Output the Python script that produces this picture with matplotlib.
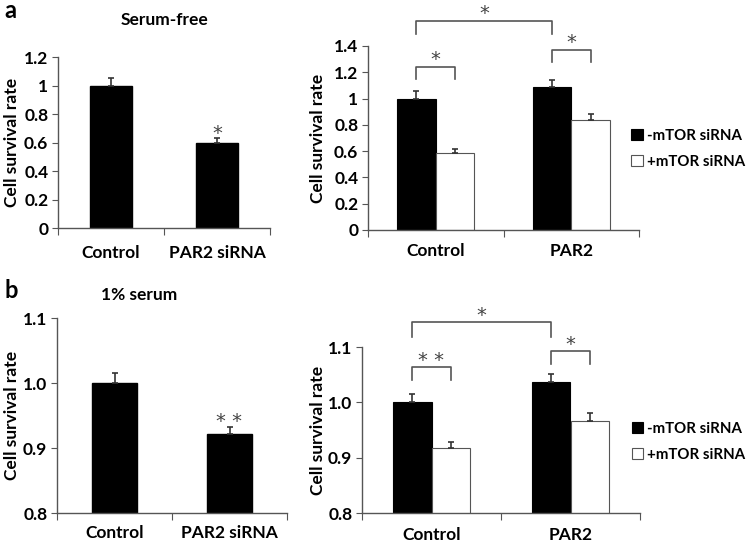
import matplotlib.pyplot as plt
import numpy as np

plt.rcParams['font.family'] = ['Lato', 'DejaVu Sans']

# panel a, serum-free
sf_labels = ['Control', 'PAR2 siRNA']
sf_means = [1.0, 0.6]
sf_err = [0.05, 0.03]

groups = ['Control', 'PAR2']
sf_minus = [1.0, 1.09]
sf_minus_err = [0.055, 0.05]
sf_plus = [0.585, 0.84]
sf_plus_err = [0.035, 0.04]

# panel b, 1% serum
s1_means = [1.0, 0.922]
s1_err = [0.015, 0.011]
s1_minus = [1.0, 1.037]
s1_minus_err = [0.015, 0.014]
s1_plus = [0.917, 0.966]
s1_plus_err = [0.011, 0.015]

series_names = ['-mTOR siRNA', '+mTOR siRNA']

# significance: (bar a, bar b, leg y, top y, text); bars indexed (group, series)
sf_sig = [((0, 0), (0, 1), 1.15, 1.24, '*'),
          ((1, 0), (1, 1), 1.28, 1.37, '*'),
          ((0, 0), (1, 0), 1.49, 1.59, '*')]
s1_sig = [((0, 0), (0, 1), 1.040, 1.064, '* *'),
          ((1, 0), (1, 1), 1.069, 1.093, '*'),
          ((0, 0), (1, 0), 1.118, 1.145, '*')]

AX = '#555555'
FS = 12.5
W, H = 751, 544
fig = plt.figure(figsize=(W / 100, H / 100), dpi=100)


def make_ax(l, r, t, b):
    return fig.add_axes([l / W, 1 - b / H, (r - l) / W, (b - t) / H])


def style(ax, ylim, yticks, yfmt, labels, xpad, ylab_x):
    ax.set_xlim(0, len(labels))
    ax.set_ylim(*ylim)
    ax.set_yticks(yticks)
    ax.set_yticklabels([yfmt(v) for v in yticks])
    for s in ['top', 'right']:
        ax.spines[s].set_visible(False)
    for s in ['left', 'bottom']:
        ax.spines[s].set_color(AX)
        ax.spines[s].set_linewidth(1.0)
    ax.set_xticks(np.arange(len(labels) + 1))
    ax.set_xticklabels([])
    ax.set_xticks(np.arange(len(labels)) + 0.5, minor=True)
    ax.set_xticklabels(labels, minor=True, fontsize=FS, fontweight='bold')
    ax.tick_params(axis='x', which='major', direction='out', length=5, color=AX)
    ax.tick_params(axis='x', which='minor', length=0, pad=xpad)
    ax.tick_params(axis='y', direction='out', length=4, color=AX, pad=3,
                   labelsize=FS)
    for t in ax.get_yticklabels():
        t.set_fontweight('bold')
    ax.set_ylabel('Cell survival rate', fontsize=FS, fontweight='bold')
    ax.yaxis.set_label_coords(ylab_x, 0.5)


def star(ax, x, y, txt):
    ax.annotate(txt, (x, y), xytext=(0, -4), textcoords='offset points',
                ha='center', va='center', fontsize=14, color='#444444',
                family='DejaVu Sans', annotation_clip=False)


def simple_bars(ax, means, err, width):
    x = np.arange(len(means)) + 0.5
    ax.bar(x, means, width, color='black', edgecolor='black', zorder=2)
    ax.errorbar(x, means, yerr=[np.zeros(len(err)), err], fmt='none',
                ecolor='#333333', elinewidth=1.2, capsize=2.5, capthick=1.2,
                zorder=3)
    return x


def grouped_bars(ax, minus, minus_err, plus, plus_err, width):
    x = np.arange(len(minus)) + 0.5
    xm = x - width / 2
    xp = x + width / 2
    ax.bar(xm, minus, width, color='black', edgecolor='black', lw=0.8,
           label=series_names[0], zorder=2)
    ax.bar(xp, plus, width, color='white', edgecolor='#555555', lw=0.8,
           label=series_names[1], zorder=2)
    for xx, m, e in [(xm, minus, minus_err), (xp, plus, plus_err)]:
        ax.errorbar(xx, m, yerr=[np.zeros(len(e)), e], fmt='none',
                    ecolor='#333333', elinewidth=1.2, capsize=2.5,
                    capthick=1.2, zorder=3)
    return np.array([xm, xp]).T


def brackets(ax, centers, sig, star_off):
    for a, b, y0, y1, txt in sig:
        xa = centers[a[0]][a[1]]
        xb = centers[b[0]][b[1]]
        ax.plot([xa, xa, xb, xb], [y0, y1, y1, y0], color='#555555', lw=1.2,
                clip_on=False)
        star(ax, (xa + xb) / 2, y1 + star_off, txt)


def legend(ax, anchor):
    ax.legend(loc='center left', bbox_to_anchor=anchor, frameon=False,
              borderpad=0, borderaxespad=0, handlelength=0.75,
              handleheight=0.75, handletextpad=0.3, labelspacing=0.8,
              prop={'size': 10.8, 'weight': 'bold'})


def fmt_a(v):
    if v == 0:
        return '0'
    if abs(v - 1) < 1e-9:
        return '1'
    return f'{v:.1f}'


# top left
ax1 = make_ax(58, 270, 57, 228)
x1 = simple_bars(ax1, sf_means, sf_err, 0.40)
style(ax1, (0, 1.2), np.arange(0, 1.21, 0.2), fmt_a, sf_labels, 12, -0.18)
star(ax1, x1[1], sf_means[1] + sf_err[1] + 0.07, '*')

# top right
ax2 = make_ax(368, 639, 46, 230)
c2 = grouped_bars(ax2, sf_minus, sf_minus_err, sf_plus, sf_plus_err, 0.285)
style(ax2, (0, 1.4), np.arange(0, 1.41, 0.2), fmt_a, groups, 9, -0.155)
brackets(ax2, c2, sf_sig, 0.1)
legend(ax2, (0.972, 0.44))

# bottom left
ax3 = make_ax(57, 287, 318, 513)
x3 = simple_bars(ax3, s1_means, s1_err, 0.39)
style(ax3, (0.8, 1.1), [0.8, 0.9, 1.0, 1.1], lambda v: f'{v:.1f}',
      sf_labels, 9, -0.16)
star(ax3, x3[1], s1_means[1] + s1_err[1] + 0.016, '* *')

# bottom right
ax4 = make_ax(362, 640, 347, 513)
c4 = grouped_bars(ax4, s1_minus, s1_minus_err, s1_plus, s1_plus_err, 0.28)
style(ax4, (0.8, 1.1), [0.8, 0.9, 1.0, 1.1], lambda v: f'{v:.1f}',
      groups, 10, -0.13)
brackets(ax4, c4, s1_sig, 0.022)
legend(ax4, (0.970, 0.43))

fig.text(165 / W, 1 - 20 / H, 'Serum-free', ha='center', va='center',
         fontsize=FS, fontweight='bold')
fig.text(139 / W, 1 - 295 / H, '1% serum', ha='center', va='center',
         fontsize=FS, fontweight='bold')
fig.text(4 / W, 1 - 10 / H, 'a', ha='left', va='center', fontsize=17,
         fontweight='bold')
fig.text(4 / W, 1 - 290 / H, 'b', ha='left', va='center', fontsize=17,
         fontweight='bold')

fig.savefig('out.png', dpi=100)
